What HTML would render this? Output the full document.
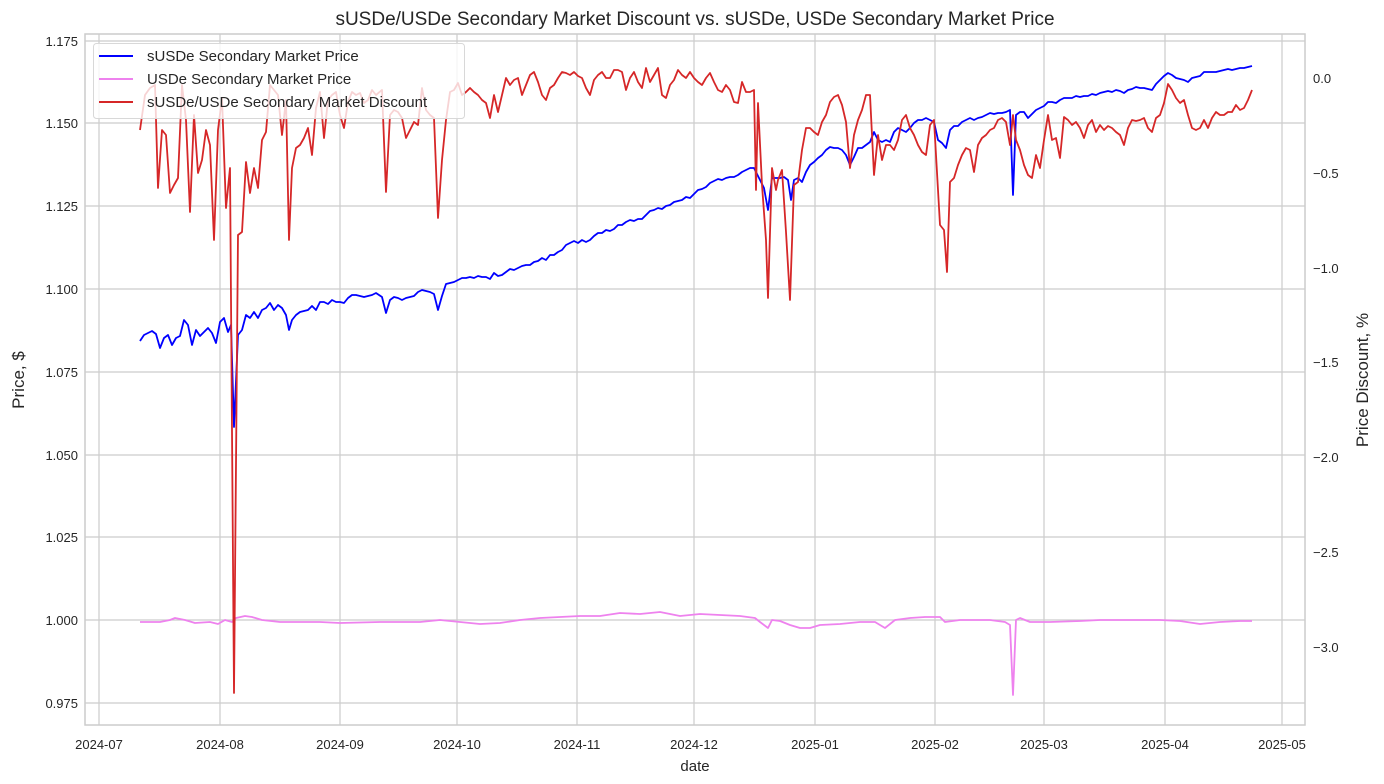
<!DOCTYPE html><html><head><meta charset="utf-8"><style>body{margin:0;background:#fff}svg{display:block;font-family:"Liberation Sans","DejaVu Sans",sans-serif}</style></head><body>
<svg width="1384" height="784" viewBox="0 0 1384 784" xmlns="http://www.w3.org/2000/svg">
<rect width="1384" height="784" fill="#fff"/>
<g stroke="#cccccc" stroke-width="1.2">
<line x1="99" y1="34" x2="99" y2="725"/><line x1="220" y1="34" x2="220" y2="725"/><line x1="340" y1="34" x2="340" y2="725"/><line x1="457" y1="34" x2="457" y2="725"/><line x1="577" y1="34" x2="577" y2="725"/><line x1="694" y1="34" x2="694" y2="725"/><line x1="815" y1="34" x2="815" y2="725"/><line x1="935" y1="34" x2="935" y2="725"/><line x1="1044" y1="34" x2="1044" y2="725"/><line x1="1165" y1="34" x2="1165" y2="725"/><line x1="1282" y1="34" x2="1282" y2="725"/>
<line x1="85" y1="41" x2="1305" y2="41"/><line x1="85" y1="123" x2="1305" y2="123"/><line x1="85" y1="206" x2="1305" y2="206"/><line x1="85" y1="289" x2="1305" y2="289"/><line x1="85" y1="372" x2="1305" y2="372"/><line x1="85" y1="455" x2="1305" y2="455"/><line x1="85" y1="537" x2="1305" y2="537"/><line x1="85" y1="620" x2="1305" y2="620"/><line x1="85" y1="703" x2="1305" y2="703"/>
</g>
<rect x="85" y="34" width="1220" height="691" fill="none" stroke="#cccccc" stroke-width="1.5"/>
<g fill="#262626" font-size="13" text-anchor="end">
<text x="78" y="46">1.175</text><text x="78" y="128">1.150</text><text x="78" y="211">1.125</text><text x="78" y="294">1.100</text><text x="78" y="377">1.075</text><text x="78" y="460">1.050</text><text x="78" y="542">1.025</text><text x="78" y="625">1.000</text><text x="78" y="708">0.975</text>
</g>
<g fill="#262626" font-size="13" text-anchor="start">
<text x="1313" y="83">0.0</text><text x="1313" y="178">−0.5</text><text x="1313" y="273">−1.0</text><text x="1313" y="367">−1.5</text><text x="1313" y="462">−2.0</text><text x="1313" y="557">−2.5</text><text x="1313" y="652">−3.0</text>
</g>
<g fill="#262626" font-size="13" text-anchor="middle">
<text x="99" y="749">2024-07</text><text x="220" y="749">2024-08</text><text x="340" y="749">2024-09</text><text x="457" y="749">2024-10</text><text x="577" y="749">2024-11</text><text x="694" y="749">2024-12</text><text x="815" y="749">2025-01</text><text x="935" y="749">2025-02</text><text x="1044" y="749">2025-03</text><text x="1165" y="749">2025-04</text><text x="1282" y="749">2025-05</text>
<text x="695" y="771" font-size="15">date</text>
<text x="695" y="25" font-size="19">sUSDe/USDe Secondary Market Discount vs. sUSDe, USDe Secondary Market Price</text>
<text transform="translate(24,380) rotate(-90)" font-size="17">Price, $</text>
<text transform="translate(1368,380) rotate(-90)" font-size="17">Price Discount, %</text>
</g>
<g fill="none" stroke-width="1.8" stroke-linejoin="round">
<polyline stroke="#ee82ee" points="140,622 160,622 170,620 175,618 185,620 195,623 210,622 218,624 225,620 232,622 236,618 245,616 252,617 262,620 280,622 320,622 340,623 380,622 420,622 440,620 460,622 480,624 500,623 520,620 540,618 560,617 580,616 600,616 620,613 640,614 660,612 680,616 700,614 720,615 740,616 755,618 760,622 768,628 772,620 780,621 790,625 800,628 810,628 820,625 840,624 860,622 875,622 885,628 895,620 910,618 925,617 940,617 945,622 960,620 990,620 1005,622 1010,625 1013,695 1016,620 1020,618 1030,622 1050,622 1080,621 1100,620 1140,620 1160,620 1180,621 1200,624 1220,622 1240,621 1252,621"/>
<polyline stroke="#0000ff" points="140,341 144,335 148,333 152,331 156,334 160,348 164,338 168,335 172,345 176,338 180,336 184,320 188,325 192,345 196,330 200,336 204,332 208,328 212,333 216,343 220,322 224,318 228,332 231,325 234,427 238,335 242,330 246,315 250,318 254,312 258,318 262,310 266,308 270,303 274,310 278,305 282,308 286,315 289,330 292,320 296,315 300,312 304,311 308,310 312,306 316,310 320,302 324,302 328,304 332,300 336,302 340,302 344,303 348,298 352,295 356,295 360,296 364,297 368,296 372,295 376,293 382,297 386,313 390,300 394,297 398,298 402,300 406,298 410,297 414,296 418,292 422,290 426,291 430,292 434,294 438,310 442,296 446,284 450,283 454,282 458,280 462,278 466,278 470,277 474,278 478,276 482,277 486,277 490,279 494,273 498,276 502,275 506,272 510,269 514,270 518,268 522,266 526,265 530,265 534,262 538,261 542,258 546,260 550,255 554,255 558,252 562,250 566,245 570,243 574,241 578,243 582,240 586,242 590,240 594,236 598,233 602,233 606,230 610,231 614,229 618,225 622,225 626,222 630,220 634,221 638,219 642,219 646,215 650,211 654,210 658,208 662,209 666,206 670,205 674,202 678,201 682,200 686,197 690,198 694,194 698,190 702,189 706,187 710,183 714,181 718,179 722,180 726,178 730,177 734,177 738,175 742,172 746,170 750,168 754,168 756,172 760,180 764,188 768,210 772,178 776,178 780,178 784,177 788,180 791,200 794,180 798,178 802,182 806,172 810,165 814,162 818,158 822,155 826,150 830,147 834,148 838,148 842,150 846,155 850,165 854,157 858,148 862,148 866,145 870,142 874,132 878,140 882,142 886,140 890,142 894,132 898,128 902,130 906,132 910,128 914,123 918,120 922,120 926,118 930,120 934,122 938,140 942,143 946,148 950,130 954,126 958,126 962,122 966,120 970,118 974,120 978,118 982,117 986,115 990,113 994,114 998,113 1002,113 1006,112 1010,110 1013,195 1016,115 1020,112 1024,112 1028,118 1032,114 1036,110 1040,108 1044,106 1048,102 1052,102 1056,103 1060,100 1064,98 1068,98 1072,98 1076,96 1080,97 1084,96 1088,96 1092,94 1096,95 1100,93 1104,92 1108,91 1112,92 1116,90 1120,91 1124,93 1128,90 1132,89 1136,87 1140,88 1144,88 1148,89 1152,90 1156,84 1160,80 1164,76 1168,73 1172,75 1176,78 1180,79 1184,80 1188,82 1192,78 1196,77 1200,76 1204,72 1208,72 1212,72 1216,72 1220,71 1224,70 1228,69 1232,70 1236,69 1240,68 1244,68 1248,67 1252,66"/>
<polyline stroke="#d62728" points="140,130 145,95 150,88 155,85 158,188 162,130 166,135 170,193 174,185 178,178 182,85 186,120 190,212 194,115 198,173 202,160 206,130 210,145 214,240 218,130 222,98 226,208 230,168 234,693 238,235 242,232 246,162 250,193 254,168 258,188 262,140 266,132 270,85 274,90 278,95 282,135 286,100 289,240 292,168 296,148 300,145 304,138 308,128 312,155 316,108 320,92 324,138 328,100 332,95 336,92 340,115 344,128 348,102 352,92 356,95 360,93 364,103 368,100 372,90 376,95 382,90 386,192 390,115 394,110 398,112 402,118 406,138 410,130 414,122 418,125 422,88 426,110 430,115 434,118 438,218 442,160 446,120 450,92 454,90 458,83 462,95 466,92 470,88 474,92 478,95 482,100 486,103 490,118 494,95 498,112 502,95 506,78 510,85 514,80 518,78 522,95 526,85 530,75 534,72 538,82 542,95 546,100 550,88 554,85 558,78 562,72 566,73 570,75 574,72 578,76 582,78 586,88 590,95 594,80 598,75 602,72 606,78 610,78 614,70 618,70 622,72 626,90 630,78 634,72 638,82 642,88 646,68 650,82 654,75 658,68 662,95 666,98 670,85 674,80 678,70 682,75 686,78 690,72 694,78 698,82 702,85 706,78 710,73 714,82 718,90 722,92 726,85 730,90 734,102 738,103 742,82 746,92 750,92 754,90 756,190 758,103 762,185 766,240 768,298 772,168 776,190 778,180 782,170 786,232 790,300 794,185 798,182 802,150 806,128 810,128 814,132 818,135 822,122 826,115 830,102 834,97 838,95 842,105 846,122 850,168 854,135 858,120 862,110 866,95 870,95 874,175 878,135 882,160 886,145 890,145 894,150 898,140 902,120 906,115 910,128 914,135 918,145 922,152 926,155 930,125 934,120 936,155 940,225 944,230 947,272 950,182 954,178 958,165 962,155 966,148 970,150 974,172 978,145 982,138 986,135 990,130 994,128 998,120 1002,118 1006,122 1010,145 1013,115 1016,140 1020,150 1024,165 1028,175 1032,178 1036,155 1040,168 1044,140 1048,115 1052,140 1056,138 1060,158 1064,117 1068,120 1072,125 1076,122 1080,128 1084,138 1088,125 1092,120 1096,132 1100,125 1104,130 1108,126 1112,128 1116,132 1120,135 1124,145 1128,128 1132,120 1136,121 1140,120 1144,118 1148,128 1152,132 1156,118 1160,115 1164,103 1168,84 1172,90 1176,98 1180,103 1184,100 1188,115 1192,128 1196,130 1200,128 1204,120 1208,128 1212,118 1216,112 1220,115 1224,115 1228,112 1232,112 1236,105 1240,110 1244,108 1248,100 1252,90"/>
</g>
<rect x="93.5" y="43.5" width="371" height="75" rx="3" fill="#fff" fill-opacity="0.8" stroke="#d8d8d8"/>
<g stroke-width="2"><line x1="99" y1="56" x2="133" y2="56" stroke="#0000ff"/><line x1="99" y1="79" x2="133" y2="79" stroke="#ee82ee"/><line x1="99" y1="102" x2="133" y2="102" stroke="#d62728"/></g>
<g fill="#262626" font-size="15"><text x="147" y="61">sUSDe Secondary Market Price</text><text x="147" y="84">USDe Secondary Market Price</text><text x="147" y="107">sUSDe/USDe Secondary Market Discount</text></g>
</svg></body></html>
